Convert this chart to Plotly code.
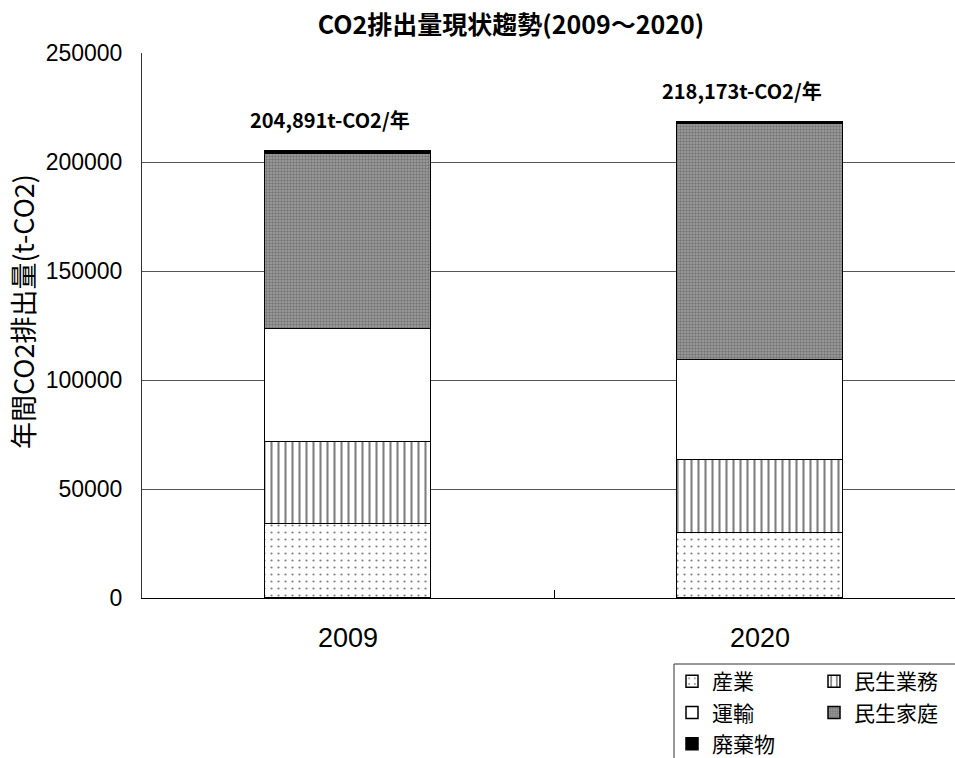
import plotly.graph_objects as go

# Annual CO2 emissions by sector (t-CO2)
years = ["2009", "2020"]
sectors = ["産業", "民生業務", "運輸", "民生家庭", "廃棄物"]
industry = [33800, 29800]
commercial = [37900, 33500]
transport = [51500, 46000]
household = [80691, 107973]
waste = [1000, 900]

series = [industry, commercial, transport, household, waste]
totals = [sum(v) for v in zip(*series)]

JP = "Noto Sans CJK JP"
NUM = "Liberation Sans"

styles = [
    dict(color="white", pattern=dict(shape=".", size=7, solidity=0.08,
                                     fgcolor="black", bgcolor="white", fillmode="overlay")),
    dict(color="white", pattern=dict(shape="|", size=7, solidity=0.3,
                                     fgcolor="black", bgcolor="white", fillmode="overlay")),
    dict(color="white"),
    dict(color="#a0a0a0", pattern=dict(shape=".", size=3, solidity=0.5,
                                       fgcolor="#4a4a4a", bgcolor="#a0a0a0", fillmode="overlay")),
    dict(color="black"),
]
legend_of = ["legend", "legend2", "legend", "legend2", "legend"]

fig = go.Figure()
for name, vals, st, lg in zip(sectors, series, styles, legend_of):
    marker = dict(color=st["color"], line=dict(color="black", width=1.5))
    if "pattern" in st:
        marker["pattern"] = st["pattern"]
    fig.add_trace(go.Bar(
        x=years, y=vals, name=name, marker=marker, width=0.403,
        legend=lg, legendgroup=name,
    ))

# total labels above each stacked bar
for i, tot in enumerate(totals):
    fig.add_annotation(
        x=i, y=tot, text=f"{tot:,}t-CO2/年", showarrow=False,
        xanchor="center", yanchor="bottom", xshift=-18, yshift=15,
        font=dict(family=JP, size=20, color="black", weight="bold"),
    )

# vertical y-axis title
fig.add_annotation(
    x=(22 - 142) / 813, y=(598 - 312) / 545, xref="paper", yref="paper",
    text="年間CO2排出量(t-CO2)", textangle=-90, showarrow=False,
    xanchor="center", yanchor="middle",
    font=dict(family=JP, size=27, color="black"),
)

legend_common = dict(
    orientation="v", traceorder="grouped", tracegroupgap=1,
    bgcolor="rgba(0,0,0,0)", borderwidth=0,
    font=dict(family=JP, size=21, color="black"),
    xanchor="left", yanchor="top", y=(598 - 661) / 545,
)

# frame around the two legend columns
fig.add_shape(type="rect", xref="paper", yref="paper",
              x0=(674 - 142) / 813, x1=1.05, y0=(598 - 664) / 545, y1=-0.4,
              line=dict(color="#333", width=1), fillcolor="rgba(0,0,0,0)")

fig.update_layout(
    width=955, height=758,
    margin=dict(l=142, r=0, t=53, b=160, autoexpand=False),
    paper_bgcolor="white", plot_bgcolor="white",
    barmode="stack", bargap=0,
    title=dict(text="CO2排出量現状趨勢(2009～2020)", x=511 / 955, xanchor="center",
               y=1 - 25 / 758, yanchor="middle", xref="container", yref="container",
               font=dict(family=JP, size=25, color="black", weight="bold")),
    showlegend=True,
    legend=dict(legend_common, x=(672 - 142) / 813),
    legend2=dict(legend_common, x=(814 - 142) / 813),
    xaxis=dict(
        type="category", range=[-0.5, 1.473], showgrid=False,
        showline=True, linecolor="black", linewidth=1,
        ticks="inside", tickson="boundaries", ticklen=8, tickcolor="black",
        tickfont=dict(family=NUM, size=27, color="black"), ticklabelstandoff=16,
    ),
    yaxis=dict(
        range=[0, 250000], dtick=50000, tickformat="d",
        showgrid=True, gridcolor="#555", gridwidth=1,
        showline=True, linecolor="#333", linewidth=1, ticks="",
        tickfont=dict(family=NUM, size=23, color="black"), ticklabelstandoff=14,
        zeroline=False,
    ),
)

fig.write_html("out.html")
